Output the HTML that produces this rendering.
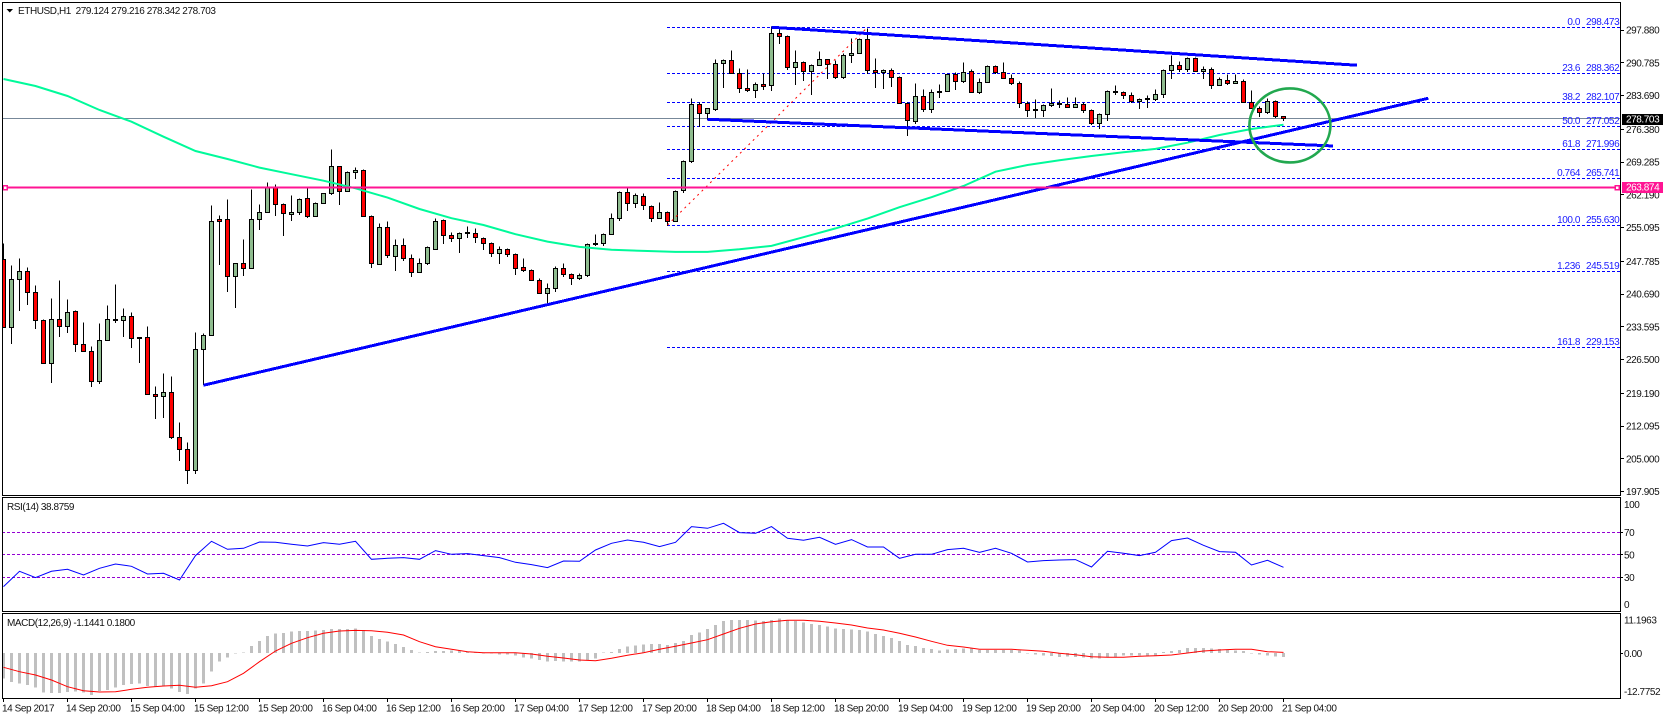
<!DOCTYPE html>
<html lang="en">
<head>
<meta charset="utf-8">
<title>ETHUSD H1 chart</title>
<style>
html,body{margin:0;padding:0;background:#fff;width:1663px;height:719px;overflow:hidden}
svg{display:block}
text{font-family:"Liberation Sans",sans-serif;font-size:10px;letter-spacing:-0.42px;fill:#111}
</style>
</head>
<body>
<svg id="chart" width="1663" height="719" viewBox="0 0 1663 719" xmlns="http://www.w3.org/2000/svg">
  <defs>
    <clipPath id="main-clip"><rect x="2" y="2" width="1618" height="493"/></clipPath>
    <clipPath id="rsi-clip"><rect x="2" y="497" width="1618" height="114"/></clipPath>
    <clipPath id="macd-clip"><rect x="2" y="613" width="1618" height="85"/></clipPath>
  </defs>
  <rect x="0" y="0" width="1663" height="719" fill="#fff"/>
  <g id="main-under" clip-path="url(#main-clip)"></g>
  <g id="main-candles" clip-path="url(#main-clip)"></g>
  <g id="main-over" clip-path="url(#main-clip)"></g>
  <g id="fib-labels"></g>
  <g id="rsi-plot" clip-path="url(#rsi-clip)"></g>
  <g id="macd-plot" clip-path="url(#macd-clip)"></g>
  <g fill="none" stroke="#000" stroke-width="1" shape-rendering="crispEdges">
    <rect x="2.5" y="2.5" width="1618" height="493"/>
    <rect x="2.5" y="497.5" width="1618" height="114"/>
    <rect x="2.5" y="613.5" width="1618" height="85"/>
  </g>
  <g id="axes"></g>
  <polygon points="6.5,9 13,9 9.75,12.5" fill="#000"/>
  <text x="18" y="14">ETHUSD,H1&#160; 279.124 279.216 278.342 278.703</text>
  <text x="7" y="510">RSI(14) 38.8759</text>
  <text x="7" y="626">MACD(12,26,9) -1.1441 0.1800</text>
</svg>
<script>
// ---- price series (one value per hourly bar) ----
const opens = [
248.07,233.41,243.81,245.63,241.08,235.02,225.61,235.23,233.63,236.96,
229.82,228.30,221.71,230.68,235.23,235.02,235.88,231.33,231.33,218.99,
218.55,219.42,209.67,207.03,202.44,228.65,231.68,256.74,256.74,244.54,
247.36,246.19,256.80,258.41,263.73,260.14,257.97,258.32,261.44,257.45,
260.36,262.43,268.37,262.95,267.07,267.50,257.45,247.14,255.16,248.79,
251.26,248.44,245.32,247.21,250.30,256.67,253.43,252.69,253.79,253.86,
252.78,251.69,249.44,250.39,249.31,246.49,245.84,243.68,240.78,241.86,
246.28,244.98,244.02,244.67,251.60,251.60,253.55,256.95,262.74,260.27,
261.87,259.71,257.02,258.41,256.37,263.02,269.45,281.80,279.76,280.72,
290.59,291.33,288.51,285.27,284.75,286.13,285.83,297.03,296.53,289.73,
290.90,288.86,290.16,291.55,290.46,287.56,292.41,292.85,295.88,289.16,
288.73,289.16,287.65,282.02,278.12,283.53,280.72,284.40,284.62,288.30,
286.69,288.95,284.40,286.56,290.03,288.73,287.43,286.35,282.02,280.63,
280.41,281.50,281.71,281.80,281.06,281.80,280.50,277.60,279.55,284.62,
284.40,283.75,282.36,282.88,282.79,283.97,289.16,290.25,289.38,291.76,
288.86,289.38,285.91,287.00,286.26,286.78,282.23,280.93,280.07,282.45,279.124];
const highs = [
251.54,246.77,248.29,246.34,242.44,235.23,239.63,243.52,239.41,237.03,
234.43,229.38,234.21,238.11,242.66,237.46,236.60,231.33,233.56,220.57,
223.38,222.73,212.77,208.44,232.41,232.20,259.77,257.60,261.22,247.36,
252.56,263.24,259.99,264.75,264.32,260.20,261.94,261.44,263.45,260.57,
262.52,271.90,268.37,267.20,268.00,267.72,257.67,256.02,256.30,252.41,
252.62,249.16,248.44,250.89,257.11,256.74,254.07,254.07,255.22,254.79,
252.84,251.76,250.89,250.46,249.37,248.29,245.97,244.11,242.88,246.56,
247.21,245.04,245.19,251.54,253.49,253.77,258.19,262.80,263.60,262.52,
262.52,259.84,260.57,258.62,263.17,269.58,283.10,282.15,280.93,291.55,
291.55,293.50,289.60,289.38,286.41,288.51,298.61,298.32,296.59,293.50,
290.96,290.38,293.13,291.55,291.18,292.85,296.09,296.05,298.26,291.76,
289.38,289.60,287.71,282.08,286.20,285.05,285.05,286.04,288.30,288.64,
290.90,289.23,287.28,290.09,290.09,290.90,288.15,286.78,282.45,282.73,
281.80,285.11,282.51,283.16,283.32,282.08,280.56,279.85,284.83,285.76,
284.62,284.40,283.10,283.75,284.90,289.38,292.26,291.11,291.83,291.83,
290.03,289.81,287.65,288.30,288.30,287.21,284.68,281.37,283.10,282.51,279.216];
const lows = [
233.35,229.88,237.03,238.33,233.13,225.61,221.43,231.40,232.26,228.15,
228.21,220.57,221.28,230.68,234.43,231.40,229.01,225.76,218.99,213.64,
213.85,209.37,204.54,199.62,201.72,221.00,231.68,247.06,241.14,237.74,
244.67,246.19,254.64,258.41,257.67,253.34,256.59,257.89,257.24,257.45,
260.36,262.22,260.05,262.95,265.62,257.45,246.41,247.14,248.57,245.76,
247.92,244.46,245.32,246.99,250.30,251.60,252.04,249.59,252.84,251.82,
250.24,248.72,247.21,248.72,244.83,245.48,243.59,240.78,238.54,241.14,
244.46,242.66,243.74,244.46,251.17,251.11,253.55,256.59,258.69,259.40,
258.90,256.37,257.02,255.59,256.37,262.65,269.15,277.03,278.40,280.41,
285.33,288.43,284.31,284.53,283.16,285.05,284.75,294.86,289.38,286.04,
286.91,283.88,290.16,287.34,287.34,287.34,290.81,292.85,288.36,285.33,
285.18,285.61,282.02,275.00,277.60,280.20,279.98,283.23,284.62,284.90,
286.48,284.40,284.18,286.56,288.51,287.43,286.13,281.06,279.11,278.90,
279.11,281.28,281.06,281.06,281.06,280.07,277.38,276.51,278.25,283.88,
283.10,282.15,280.78,281.00,282.58,283.23,287.34,288.79,288.95,288.95,
287.34,285.18,285.91,286.04,286.26,282.23,280.84,279.11,279.85,278.90,278.342];
const closes = [
233.41,243.89,245.63,240.99,235.02,225.61,235.23,233.63,236.75,229.73,
228.21,221.71,230.68,235.23,234.93,235.88,231.11,231.03,218.99,218.55,
219.42,209.67,207.03,202.44,228.73,231.77,256.46,256.46,244.54,247.36,
246.19,256.89,258.41,263.73,260.14,258.19,258.41,261.22,257.45,260.36,
262.52,268.37,262.95,267.07,267.50,257.45,247.27,255.16,249.01,251.26,
248.44,245.32,247.36,250.82,256.46,253.34,252.69,253.86,253.92,252.91,
251.60,249.44,250.39,249.22,246.28,245.76,243.59,240.78,241.94,246.28,
244.98,244.11,244.76,251.48,251.39,253.64,257.11,262.74,260.27,262.09,
259.84,257.02,258.41,256.37,262.95,269.45,281.80,279.76,280.93,290.68,
291.33,288.43,285.18,284.75,286.13,285.61,297.03,296.44,289.73,290.90,
288.86,290.25,291.55,290.38,287.56,292.41,292.85,295.88,289.16,288.73,
289.16,287.56,282.02,278.33,283.53,280.72,284.40,284.62,288.21,286.78,
288.73,284.40,286.56,290.03,288.73,287.43,286.35,282.02,280.41,280.50,
281.50,282.02,282.02,281.06,281.80,280.50,277.60,279.63,284.62,284.40,
283.66,282.36,282.88,283.00,283.97,289.16,290.25,289.38,291.76,288.95,
289.38,285.91,287.21,286.26,286.78,282.23,280.84,280.07,282.45,279.11,278.703];

// moving average, one reading every maStep bars
const maStep = 4;
const maValues = [287.28,285.76,283.60,280.56,278.03,274.78,271.68,269.95,268.07,266.64,265.25,263.60,261.57,259.10,257.11,255.65,253.64,252.04,250.89,250.30,250.03,249.81,249.81,250.39,251.11,252.99,254.90,257.02,259.49,261.66,264.10,267.20,268.65,269.67,270.60,271.40,272.12,273.48,275.15,276.45,277.38];

// RSI(14), one reading every rsiStep bars
const rsiStep = 2;
const rsiValues = [21.65,35.28,29.65,35.28,37.06,32.02,37.95,41.80,39.72,32.91,33.50,27.58,49.21,61.95,54.84,55.73,61.35,61.06,59.28,57.80,60.76,59.28,61.95,45.95,46.84,47.43,45.95,53.65,50.39,50.98,49.21,47.43,43.28,41.21,38.54,44.47,44.17,54.24,60.17,63.13,61.06,57.21,61.06,74.98,73.50,77.95,69.65,69.06,74.98,64.61,62.84,65.50,59.28,63.43,56.91,56.91,46.84,50.39,50.39,54.54,55.73,52.17,55.73,51.28,43.58,44.76,45.35,45.65,39.13,53.06,51.28,49.21,52.17,62.54,64.91,58.39,52.76,52.17,40.91,45.06,38.88];
const rsiLevels = [70,50,30];
const rsiTicks = ["100","70","50","30","0"];

// MACD histogram (one per bar) and signal line (every signalStep bars)
const macdHist = [
-7.14,-8.17,-8.54,-9.01,-9.77,-11.08,-11.27,-11.27,-10.99,-10.80,
-11.17,-11.83,-10.70,-10.42,-9.77,-9.01,-8.73,-8.54,-9.30,-9.48,
-9.48,-9.95,-10.99,-11.55,-9.95,-8.54,-5.26,-2.44,-1.31,-0.19,
0.19,1.97,3.38,4.79,5.54,5.63,6.01,6.20,6.20,6.29,
6.48,6.76,6.76,6.76,6.95,6.48,4.79,3.94,3.19,2.54,
1.69,0.85,0.19,0.28,0.56,0.56,0.75,0.66,0.38,0.28,
-0.19,-0.19,-0.38,-0.47,-0.75,-1.31,-1.50,-1.97,-2.44,-2.25,
-2.44,-2.44,-2.44,-2.16,-1.50,0.09,0.28,1.13,1.78,2.16,
2.44,2.54,2.54,2.25,2.82,3.38,5.07,5.82,6.76,7.89,
9.01,9.30,9.30,9.30,9.11,9.01,9.30,9.77,9.30,9.01,
8.54,8.17,7.89,7.42,6.95,6.76,6.67,6.48,6.01,5.35,
4.79,4.23,3.38,2.25,1.97,1.41,1.13,0.66,1.03,1.13,
1.22,1.22,0.85,0.85,0.85,0.85,0.85,0.66,-0.19,-0.38,
-0.75,-0.85,-1.13,-0.94,-1.13,-1.31,-1.60,-1.50,-1.31,-1.13,
-0.75,-0.75,-0.75,-0.66,-0.66,0.28,0.56,0.85,1.41,1.41,
1.41,1.31,1.13,0.85,0.75,0.56,-0.19,-0.38,-0.66,-1.03,-1.14];
const signalStep = 2;
const macdSignal = [-4.04,-5.26,-6.20,-7.61,-9.48,-10.61,-10.99,-10.89,-10.23,-9.67,-9.30,-9.11,-9.67,-9.20,-8.08,-5.73,-2.44,0.56,2.72,4.32,5.54,6.20,6.38,6.29,5.82,5.07,3.19,1.78,1.03,0.38,0.09,0.09,0.09,-0.28,-0.94,-1.41,-1.97,-2.16,-1.50,-0.66,0.09,1.03,1.88,2.82,3.76,5.35,6.95,8.17,8.83,9.20,9.20,8.92,8.45,7.89,7.04,6.48,5.54,4.51,3.29,2.16,1.69,1.03,1.03,1.03,0.75,0.47,-0.09,-0.47,-1.03,-1.22,-1.22,-0.94,-0.75,-0.56,0,0.56,0.85,1.03,1.03,0.38,0.18];

// axis labels
const priceTicks = ["297.880","290.785","283.690","276.380","269.285","262.190","255.095","247.785","240.690","233.595","226.500","219.190","212.095","205.000","197.905"];
const timeLabels = ["14 Sep 2017","14 Sep 20:00","15 Sep 04:00","15 Sep 12:00","15 Sep 20:00","16 Sep 04:00","16 Sep 12:00","16 Sep 20:00","17 Sep 04:00","17 Sep 12:00","17 Sep 20:00","18 Sep 04:00","18 Sep 12:00","18 Sep 20:00","19 Sep 04:00","19 Sep 12:00","19 Sep 20:00","20 Sep 04:00","20 Sep 12:00","20 Sep 20:00","21 Sep 04:00"];
const timeLabelEvery = 8;

// fibonacci retracement
const fibNames = ["0.0","23.6","38.2","50.0","61.8","0.764","100.0","1.236","161.8"];
const fibPrices = [298.473,288.362,282.107,277.052,271.996,265.741,255.630,245.519,229.153];
const fibStartBar = 83;
const fibEndBar = 108;

// horizontal price levels
const lastPrice = 278.703;
const supportLevel = 263.874;

// trend lines: bar, price at each end
const uptrendBars = [25.0,178.1];
const uptrendPrices = [220.93,283.10];
const channelTopBars = [96.0,169.2];
const channelTopPrices = [298.48,290.25];
const channelBottomBars = [88.0,166.2];
const channelBottomPrices = [278.55,272.77];
const circleBar = 160.8;
const circlePrice = 277.21;

// ---- axis functions ----
const xBar = i => 3 + 8 * i + 0.5;
const yPrice = p => 27.3 + (298.473 - p) * 4.616;
const yRsi = r => 611 - 1.125 * r;
const yMacd = m => 653 - 3.55 * m;
const snap = v => Math.round(v - 0.5) + 0.5;

const NS = "http://www.w3.org/2000/svg";
function add(parent, tag, attrs, text) {
  const el = document.createElementNS(NS, tag);
  for (const k in attrs) el.setAttribute(k, attrs[k]);
  if (text !== undefined) el.textContent = text;
  parent.appendChild(el);
  return el;
}
const under = document.getElementById("main-under");
const candleLayer = document.getElementById("main-candles");
const over = document.getElementById("main-over");
const fibLabelLayer = document.getElementById("fib-labels");
const rsiLayer = document.getElementById("rsi-plot");
const macdLayer = document.getElementById("macd-plot");
const axes = document.getElementById("axes");

// fib levels
fibPrices.forEach((p, k) => {
  const y = snap(yPrice(p));
  const line = add(under, "line", {x1: xBar(fibStartBar) - 0.5, x2: 1620, y1: y, y2: y, stroke: "#0000ff", "stroke-width": 1, "stroke-dasharray": "3 2", "shape-rendering": "crispEdges"});
  
  
  const name = add(fibLabelLayer, "text", {x: 1580, y: y - 2.5, "text-anchor": "end", style: "fill:#1a1aff"}, fibNames[k]);
  
  
  const val = add(fibLabelLayer, "text", {x: 1586, y: y - 2.5, style: "fill:#1a1aff"}, p.toFixed(3));
  
  
});

// last price line
const lastLine = add(under, "line", {x1: 2, x2: 1620, y1: snap(yPrice(lastPrice)), y2: snap(yPrice(lastPrice)), stroke: "#778899", "stroke-width": 1, "shape-rendering": "crispEdges"});



// candles
opens.forEach((o, i) => {
  const c = closes[i], x = xBar(i);
  const up = c >= o;
  const top = snap(yPrice(Math.max(o, c))), bot = snap(yPrice(Math.min(o, c)));
  const g = add(candleLayer, "g", {"shape-rendering": "crispEdges"});
  
  
  add(g, "line", {x1: x, x2: x, y1: snap(yPrice(highs[i])), y2: snap(yPrice(lows[i])) + 0.5, stroke: "#000", "stroke-width": 1});
  add(g, "rect", {x: x - 2, y: top, width: 4, height: Math.max(bot - top, 1), fill: up ? "#8fbc8f" : "#ff0000", stroke: "#000", "stroke-width": 1});
});

// moving average
const maLine = add(over, "polyline", {points: maValues.map((v, k) => xBar(k * maStep) + "," + yPrice(v).toFixed(1)).join(" "), fill: "none", stroke: "#00fa9a", "stroke-width": 2});



// fib diagonal
const fibDiag = add(over, "line", {x1: xBar(fibStartBar), y1: yPrice(fibPrices[6]), x2: xBar(fibEndBar), y2: yPrice(fibPrices[0]), stroke: "#ff0000", "stroke-width": 1, "stroke-dasharray": "2 4"});



// trend lines
function trend(bars, prices) {
  return add(over, "line", {x1: xBar(bars[0]), y1: yPrice(prices[0]), x2: xBar(bars[1]), y2: yPrice(prices[1]), stroke: "#0000ff", "stroke-width": 3, "shape-rendering": "crispEdges"});
}
const upLine = trend(uptrendBars, uptrendPrices);


const topLine = trend(channelTopBars, channelTopPrices);


const botLine = trend(channelBottomBars, channelBottomPrices);



// support level
const supY = snap(yPrice(supportLevel));
const supLine = add(over, "line", {x1: 2, x2: 1620, y1: supY, y2: supY, stroke: "#ff1493", "stroke-width": 2, "shape-rendering": "crispEdges"});


[5, 1617].forEach(hx => {
  const h = add(over, "rect", {x: hx - 2, y: supY - 2, width: 4, height: 4, fill: "#fff", stroke: "#ff1493", "stroke-width": 1.5, "shape-rendering": "crispEdges"});
  
  
});

// highlight circle
const ring = add(over, "ellipse", {cx: xBar(circleBar), cy: yPrice(circlePrice), rx: 40.5, ry: 37, fill: "none", stroke: "#22a84f", "stroke-width": 2.6});



// price axis
priceTicks.forEach(t => {
  const y = yPrice(parseFloat(t));
  const tick = add(axes, "line", {x1: 1621, x2: 1624, y1: snap(y), y2: snap(y), stroke: "#000", "stroke-width": 1, "shape-rendering": "crispEdges"});
  
  
  const lab = add(axes, "text", {x: 1626, y: y + 3.5}, t);
  
  
});

// price tags
function tag(price, fill, name) {
  const y = yPrice(price);
  const box = add(axes, "rect", {x: 1622, y: Math.round(y) - 5, width: 41, height: 11, fill: fill, "shape-rendering": "crispEdges"});
  
  
  const t = add(axes, "text", {x: 1626, y: y + 3.7, style: "fill:#fff"}, price.toFixed(3));
  
  
}
tag(lastPrice, "#000", "last-price-tag");
tag(supportLevel, "#ff1493", "support-price-tag");

// RSI
rsiLevels.forEach(l => {
  const y = snap(yRsi(l));
  const line = add(rsiLayer, "line", {x1: 2, x2: 1620, y1: y, y2: y, stroke: "#9400d3", "stroke-width": 1, "stroke-dasharray": "3 2", "shape-rendering": "crispEdges"});
  
  
});
const rsiLine = add(rsiLayer, "polyline", {points: rsiValues.map((v, k) => xBar(k * rsiStep) + "," + yRsi(v).toFixed(1)).join(" "), fill: "none", stroke: "#0000ff", "stroke-width": 1});


rsiTicks.forEach(t => {
  const y = Math.min(604.3, Math.max(504.3, yRsi(parseFloat(t))));
  const lab = add(axes, "text", {x: 1624, y: y + 3.5}, t);
  
  
  if (t === "70" || t === "50" || t === "30") {
    const tick = add(axes, "line", {x1: 1621, x2: 1623, y1: snap(y), y2: snap(y), stroke: "#000", "stroke-width": 1, "shape-rendering": "crispEdges"});
    
    
  }
});

// MACD
macdHist.forEach((m, i) => {
  const y0 = yMacd(0), y1 = yMacd(m);
  const bar = add(macdLayer, "rect", {x: xBar(i) - 1.5, y: Math.min(y0, y1), width: 3, height: Math.max(Math.abs(y1 - y0), 0.5), fill: "#c0c0c0", "shape-rendering": "crispEdges"});
  
  
});
const sigLine = add(macdLayer, "polyline", {points: macdSignal.map((v, k) => xBar(k * signalStep) + "," + yMacd(v).toFixed(1)).join(" "), fill: "none", stroke: "#ff0000", "stroke-width": 1});


[["11.1963", 620], ["0.00", 653.3], ["-12.7752", 691.3]].forEach(a => {
  const lab = add(axes, "text", {x: 1624, y: a[1] + 3.5}, a[0]);
  
  
});
const macdZeroTick = add(axes, "line", {x1: 1621, x2: 1623, y1: snap(yMacd(0)), y2: snap(yMacd(0)), stroke: "#000", "stroke-width": 1, "shape-rendering": "crispEdges"});



// time axis
timeLabels.forEach((t, k) => {
  const x = xBar(k * timeLabelEvery);
  const tick = add(axes, "line", {x1: x, x2: x, y1: 698, y2: 702, stroke: "#000", "stroke-width": 1, "shape-rendering": "crispEdges"});
  
  
  const lab = add(axes, "text", {x: x - 1.5, y: 711.5}, t);
  
  
});
</script>
</body>
</html>
